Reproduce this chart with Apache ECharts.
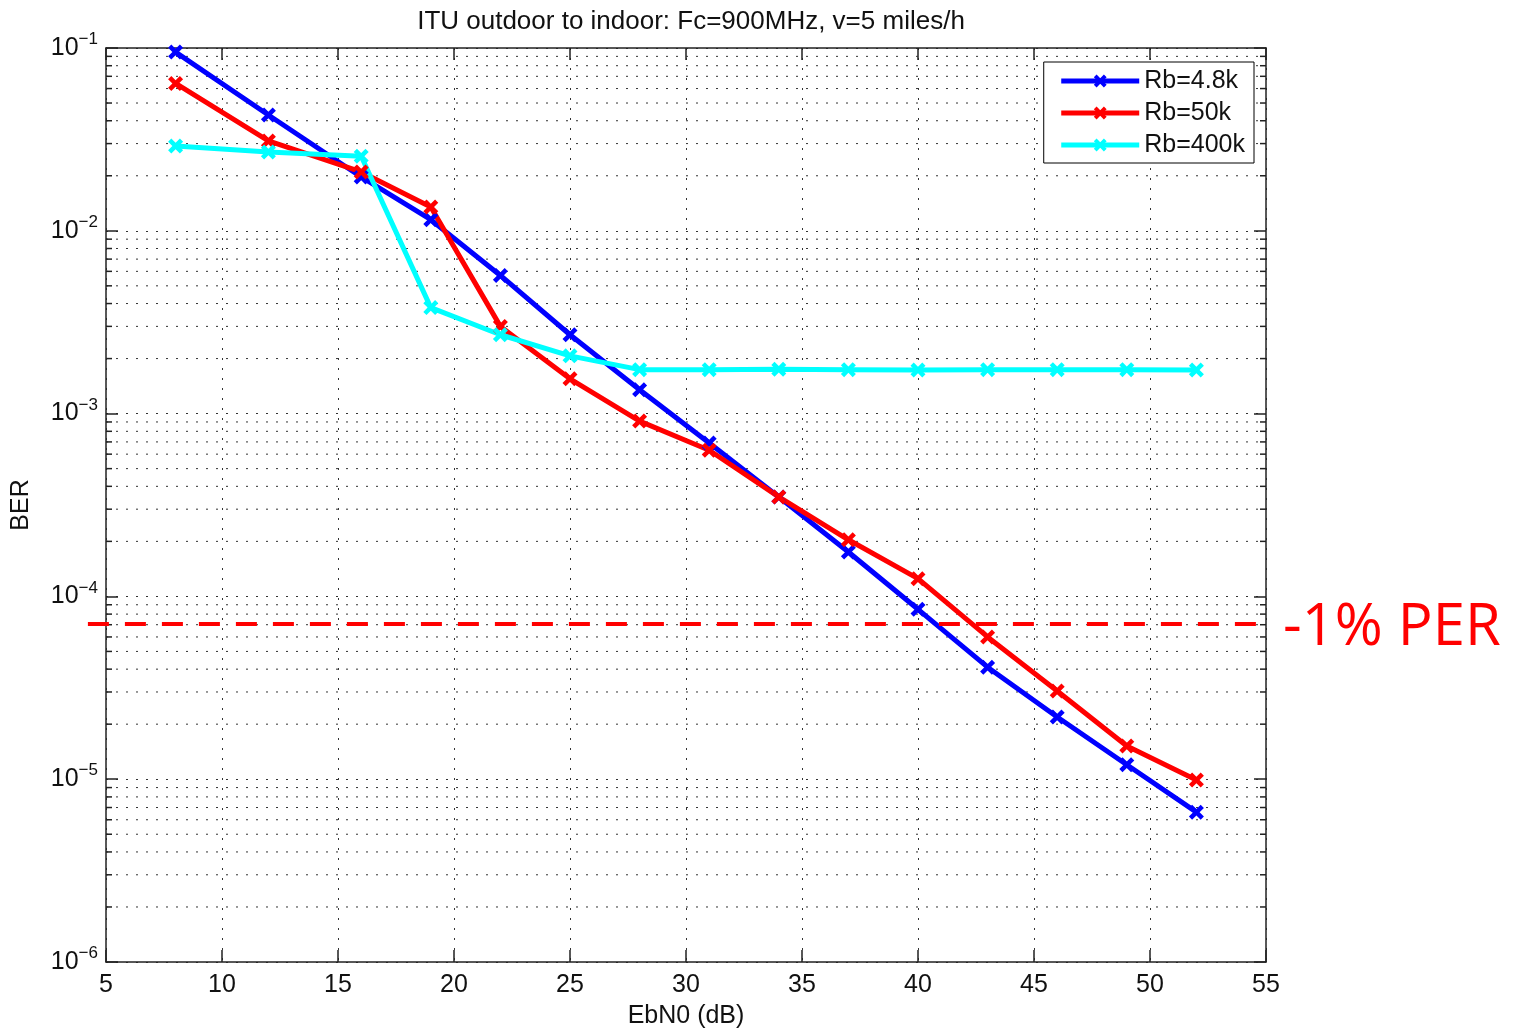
<!DOCTYPE html>
<html>
<head>
<meta charset="utf-8">
<script src="https://cdn.jsdelivr.net/npm/echarts@6/dist/echarts.min.js"></script>
<style>html,body{margin:0;padding:0;background:#fff}#c{width:1514px;height:1030px}</style>
</head>
<body>
<div id="c"></div>
<script>
var ebn0 = [8, 12, 16, 19, 22, 25, 28, 31, 34, 37, 40, 43, 46, 49, 52];
var berRb48k = [0.095, 0.043, 0.0197, 0.0115, 0.0057, 0.0027, 0.00135, 0.00069, 0.00035, 0.000175, 0.000085, 0.000041, 0.0000219, 0.000012, 0.0000066];
var berRb50k = [0.064, 0.031, 0.021, 0.0135, 0.0030, 0.00155, 0.00091, 0.00063, 0.00035, 0.000204, 0.000125, 0.000060, 0.0000304, 0.0000152, 0.0000099];
var berRb400k = [0.0291, 0.027, 0.0256, 0.0038, 0.0027, 0.00207, 0.00174, 0.00174, 0.00175, 0.00174, 0.00173, 0.00174, 0.00174, 0.00174, 0.00173];
var seriesNames = ['Rb=4.8k', 'Rb=50k', 'Rb=400k'];
var perLevel = 0.0000706;
var perLineX = [4.22, 55];
var perLabel = '-1% PER';
var yDecades = [1e-6, 1e-5, 1e-4, 1e-3, 1e-2, 1e-1];
var minorMultipliers = [2, 3, 4, 5, 6, 7, 8, 9];

var minorValues = [];
for (var i = 0; i < yDecades.length - 1; i++) {
  for (var j = 0; j < minorMultipliers.length; j++) {
    minorValues.push([5, yDecades[i] * minorMultipliers[j]]);
  }
}

var FONT = '"Liberation Sans", Arial, sans-serif';
var xMark = 'path://M0,3 L3,0 L7,4 L11,0 L14,3 L10,7 L14,11 L11,14 L7,10 L3,14 L0,11 L4,7 Z';
var GRID_DOT = [2, 8];

function pairs(xs, ys) { return xs.map(function (x, k) { return [x, ys[k]]; }); }

function lineSeries(name, data, color) {
  return {
    name: name, type: 'line', data: pairs(ebn0, data),
    xAxisIndex: 0, yAxisIndex: 0,
    symbol: xMark, symbolSize: 15,
    lineStyle: { color: color, width: 5 },
    itemStyle: { color: color },
    z: 5
  };
}

var chart = echarts.init(document.getElementById('c'), null, { renderer: 'canvas' });
chart.setOption({
  animation: false,
  backgroundColor: '#fff',
  title: {
    text: 'ITU outdoor to indoor: Fc=900MHz, v=5 miles/h',
    left: 686, top: 4, textAlign: 'center',
    textStyle: { fontFamily: FONT, fontSize: 26, fontWeight: 'normal', color: '#111' }
  },
  grid: { left: 106, right: 248, top: 48, bottom: 68, outerBoundsMode: 'none', containLabel: false },
  legend: {
    orient: 'vertical', right: 260, top: 62,
    data: seriesNames,
    itemWidth: 78, itemHeight: 16, itemGap: 6,
    padding: [6, 9, 5, 15],
    lineStyle: { width: 5 },
    backgroundColor: '#fff', borderColor: '#000', borderWidth: 1, borderRadius: 0,
    textStyle: { fontFamily: FONT, fontSize: 25, lineHeight: 26, color: '#111' }
  },
  xAxis: [{
    type: 'value', min: 5, max: 55, interval: 5, position: 'bottom',
    name: 'EbN0 (dB)', nameLocation: 'middle', nameGap: 42,
    nameTextStyle: { fontFamily: FONT, fontSize: 25, color: '#111' },
    axisLine: { lineStyle: { color: '#222', width: 1.5 } },
    axisTick: { inside: true, length: 12, lineStyle: { color: '#222', width: 1.5 } },
    axisLabel: { fontFamily: FONT, fontSize: 25, color: '#111', margin: 11 },
    splitLine: { show: true, lineStyle: { color: '#333', width: 1, type: GRID_DOT } }
  }, {
    type: 'value', min: 5, max: 55, interval: 5, position: 'top',
    axisLine: { lineStyle: { color: '#222', width: 1.5 } },
    axisTick: { inside: true, length: 12, lineStyle: { color: '#222', width: 1.5 } },
    axisLabel: { show: false }, splitLine: { show: false }
  }],
  yAxis: [{
    type: 'log', logBase: 10, min: 1e-6, max: 1e-1, position: 'left',
    name: 'BER', nameLocation: 'middle', nameGap: 72, nameRotate: 90,
    nameTextStyle: { fontFamily: FONT, fontSize: 25, color: '#111' },
    axisLine: { lineStyle: { color: '#222', width: 1.5 } },
    axisTick: { inside: true, length: 12, lineStyle: { color: '#222', width: 1.5 } },
    axisLabel: {
      margin: 8, color: '#111',
      formatter: function (v) {
        var e = Math.round(Math.log(v) / Math.LN10);
        return '{b|10}{s|\u2212' + Math.abs(e) + '}';
      },
      rich: {
        b: { fontFamily: FONT, fontSize: 25, color: '#111' },
        s: { fontFamily: FONT, fontSize: 17, color: '#111', padding: [0, 0, 17, 0] }
      }
    },
    splitLine: { show: true, lineStyle: { color: '#333', width: 1, type: GRID_DOT } }
  }, {
    type: 'log', logBase: 10, min: 1e-6, max: 1e-1, position: 'right',
    axisLine: { lineStyle: { color: '#222', width: 1.5 } },
    axisTick: { inside: true, length: 12, lineStyle: { color: '#222', width: 1.5 } },
    axisLabel: { show: false }, splitLine: { show: false }
  }],
  series: [
    {
      type: 'custom', name: 'minorGrid', xAxisIndex: 0, yAxisIndex: 0,
      data: minorValues, encode: { x: 0, y: 1 }, silent: true, z: 1, clip: false,
      renderItem: function (params, api) {
        var v = api.value(1);
        var p0 = api.coord([5, v]);
        var p1 = api.coord([55, v]);
        return {
          type: 'group',
          children: [
            { type: 'line', shape: { x1: p0[0], y1: p0[1], x2: p1[0], y2: p1[1] },
              style: { stroke: '#333', lineWidth: 1, lineDash: GRID_DOT } },
            { type: 'line', shape: { x1: p0[0], y1: p0[1], x2: p0[0] + 6, y2: p0[1] },
              style: { stroke: '#222', lineWidth: 1.5 } },
            { type: 'line', shape: { x1: p1[0] - 6, y1: p1[1], x2: p1[0], y2: p1[1] },
              style: { stroke: '#222', lineWidth: 1.5 } }
          ]
        };
      }
    },
    lineSeries(seriesNames[0], berRb48k, '#0000ff'),
    lineSeries(seriesNames[1], berRb50k, '#ff0000'),
    lineSeries(seriesNames[2], berRb400k, '#00ffff'),
    {
      type: 'custom', name: 'PER', xAxisIndex: 0, yAxisIndex: 0, clip: false,
      data: [[perLineX[0], perLevel, perLineX[1]]], encode: { x: 0, y: 1 },
      silent: true, z: 6,
      renderItem: function (params, api) {
        var a = api.coord([api.value(0), api.value(1)]);
        var b = api.coord([api.value(2), api.value(1)]);
        return {
          type: 'line', shape: { x1: a[0], y1: a[1], x2: b[0], y2: b[1] },
          style: { stroke: '#ff0000', lineWidth: 4, lineDash: [21, 16] }
        };
      }
    }
  ],
  graphic: [{
    type: 'text', left: 1283, top: 599,
    style: { text: perLabel, fill: '#ff0000', font: '58px "Open Sans", sans-serif' }
  }]
});
</script>
</body>
</html>
